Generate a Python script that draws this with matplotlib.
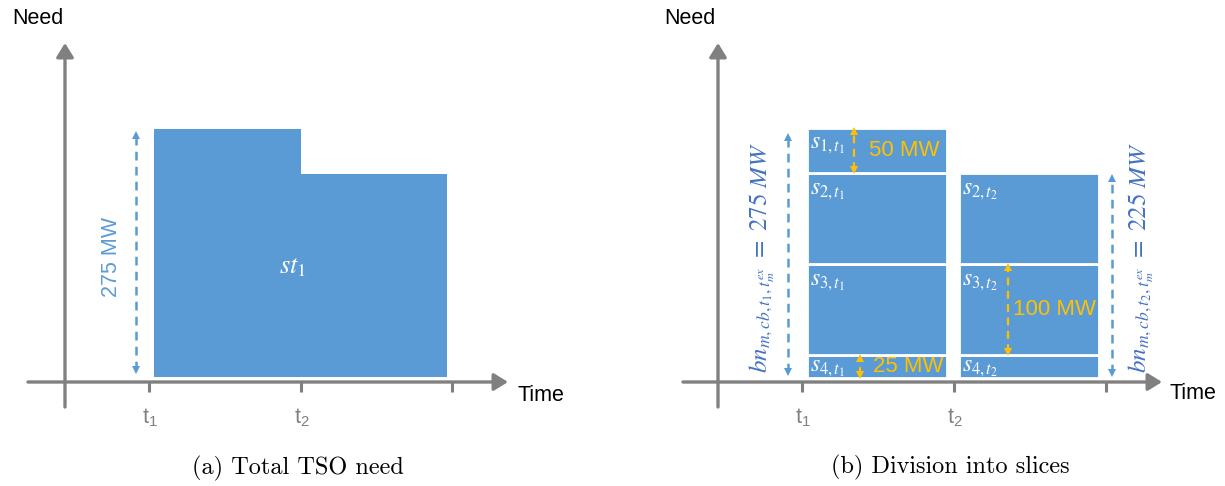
import matplotlib
matplotlib.use('Agg')
import matplotlib.pyplot as plt

# ---------------- data ----------------
time_ticks = [1, 2, 3]                 # t1, t2, end
time_labels = [r'$\mathregular{t_1}$', r'$\mathregular{t_2}$']
total_need = [275, 225]                # MW needed during [t1,t2) and [t2,end)
total_label = 'st_1'

slices_t1_names = ['s_{4,t_1}', 's_{3,t_1}', 's_{2,t_1}', 's_{1,t_1}']
slices_t1_mw = [25, 100, 100, 50]
slices_t2_names = ['s_{4,t_2}', 's_{3,t_2}', 's_{2,t_2}']
slices_t2_mw = [25, 100, 100]

# ---------------- style ----------------
W, H = 1225, 486
BLUE = '#5B9BD5'
GRAY = '#808080'
ORANGE = '#FFC000'
DBLUE = '#4472C4'
SANS = 'Liberation Sans'

fig = plt.figure(figsize=(W / 100, H / 100), dpi=100)


def make_panel(x0px, x1px, tick1_px, px_per_t, zero_py, px_per_mw):
    ax = fig.add_axes([x0px / W, 0, (x1px - x0px) / W, 1])
    ax.set_xlim(1 + (x0px - tick1_px) / px_per_t, 1 + (x1px - tick1_px) / px_per_t)
    ax.set_ylim((zero_py - H) / px_per_mw, zero_py / px_per_mw)
    ax.axis('off')

    def to_d(px, py):
        return (1 + (px - tick1_px) / px_per_t, (zero_py - py) / px_per_mw)

    def dx(px):
        return px / px_per_t

    def dy(py):
        return py / px_per_mw
    return ax, to_d, dx, dy


def axes_arrows(ax, to_d, yaxis_px, xaxis_py, xstart, xtip, ytop, ybottom):
    ap = dict(arrowstyle='-|>,head_length=0.42,head_width=0.26', color=GRAY,
              lw=2.4, shrinkA=0, shrinkB=0, mutation_scale=20)
    ax.annotate('', xy=to_d(yaxis_px, ytop), xytext=to_d(yaxis_px, ybottom), arrowprops=ap)
    ax.annotate('', xy=to_d(xtip, xaxis_py), xytext=to_d(xstart, xaxis_py), arrowprops=ap)
    y0 = to_d(0, xaxis_py)[1]
    y1 = to_d(0, xaxis_py + 10)[1]
    for t in time_ticks:
        ax.plot([t, t], [y0, y1], color=GRAY, lw=2.2, solid_capstyle='butt')


def dashed_arrow(ax, x, y0, y1, color, lw=1.8, ms=6):
    ax.plot([x, x], [y0, y1], color=color, lw=lw, dashes=(3.5, 2.5))
    ax.plot([x], [y1], marker='^', color=color, ms=ms, mew=0)
    ax.plot([x], [y0], marker='v', color=color, ms=ms, mew=0)


# ================= Panel (a) =================
axa, Ta, dxa, dya = make_panel(0, 612, 149, 151.5, 377, 0.9018)
axes_arrows(axa, Ta, 65, 382, 28, 508, 43, 407)

pad = dxa(5)
xs = [time_ticks[0] + pad, time_ticks[1], time_ticks[2] - pad]
ys = [total_need[0], total_need[1], total_need[1]]
axa.fill_between(xs, 0, ys, step='post', color=BLUE, lw=0)

axa.text(*Ta(293, 266), f'${total_label}$', color='white', fontsize=19,
         ha='center', va='center', math_fontfamily='stix')

# 275 MW arrow
xa = time_ticks[0] - dxa(13)
dashed_arrow(axa, xa, dya(7), total_need[0] - dya(6), BLUE)
axa.text(xa - dxa(24), total_need[0] / 2 - dya(4), f'{total_need[0]} MW', rotation=90,
         color=BLUE, fontsize=15.5, family=SANS, ha='center', va='center')

axa.text(*Ta(12, 18), 'Need', fontsize=15.5, family=SANS, ha='left', va='center')
axa.text(*Ta(518, 395), 'Time', fontsize=15.5, family=SANS, ha='left', va='center')
for t, lab in zip(time_ticks, time_labels):
    axa.text(t + dxa(1), Ta(0, 418)[1], lab, color=GRAY, fontsize=15.5, family=SANS,
             ha='center', va='center')
axa.text(*Ta(298, 468), '(a) Total TSO need', family='cmr10', fontsize=17.5,
         ha='center', va='center')

# ================= Panel (b) =================
axb, Tb, dxb, dyb = make_panel(612, 1225, 802, 152, 378, 0.909)
axes_arrows(axb, Tb, 718, 382, 683, 1162, 43, 407)

bar_off = dxb(5)
bar_w = dxb(140)


def stack(t, names, vals):
    bottom = 0
    rects = []
    for n, v in zip(names, vals):
        axb.bar(t + bar_off, v, bottom=bottom, width=bar_w, align='edge',
                color=BLUE, edgecolor='white', lw=2)
        rects.append((n, bottom, v))
        bottom += v
    for i, (n, b, v) in enumerate(rects):
        if i == 0:
            axb.annotate(f'${n}$', xy=(t + bar_off, b + v / 2), xytext=(2, 0),
                         textcoords='offset points', color='white', fontsize=17,
                         ha='left', va='center', math_fontfamily='stix')
        else:
            axb.annotate(f'${n}$', xy=(t + bar_off, b + v), xytext=(2, -3),
                         textcoords='offset points', color='white', fontsize=17,
                         ha='left', va='top', math_fontfamily='stix')
    return rects


r1 = stack(time_ticks[0], slices_t1_names, slices_t1_mw)
r2 = stack(time_ticks[1], slices_t2_names, slices_t2_mw)


def mw_arrow(t, rect, x_px, gap_px):
    n, b, v = rect
    x = t + bar_off + dxb(x_px)
    dashed_arrow(axb, x, b + dyb(3), b + v - dyb(3), ORANGE, lw=1.6, ms=5.5)
    axb.text(x + dxb(gap_px), b + v / 2, f'{v} MW', color=ORANGE, fontsize=16,
             family=SANS, ha='left', va='center')


mw_arrow(time_ticks[0], r1[3], 47, 15)
mw_arrow(time_ticks[0], r1[0], 53, 13)
mw_arrow(time_ticks[1], r2[1], 49, 5)

tot1 = sum(slices_t1_mw)
tot2 = sum(slices_t2_mw)
xl = time_ticks[0] - dxb(14)
dashed_arrow(axb, xl, dyb(6), tot1 - dyb(9), BLUE)
xr = time_ticks[2] + dxb(6)
dashed_arrow(axb, xr, dyb(5), tot2 - dyb(5), BLUE)

axb.text(xl - dxb(26), tot1 / 2 - dyb(4),
         r'$bn_{m,cb,t_1,t_m^{ex}}\ =\ ' + f'{tot1}' + r'\ MW$', rotation=90,
         color=DBLUE, fontsize=18, ha='center', va='center', math_fontfamily='stix')
axb.text(xr + dxb(29), tot1 / 2 - dyb(4),
         r'$bn_{m,cb,t_2,t_m^{ex}}\ =\ ' + f'{tot2}' + r'\ MW$', rotation=90,
         color=DBLUE, fontsize=18, ha='center', va='center', math_fontfamily='stix')

axb.text(*Tb(664, 18), 'Need', fontsize=15.5, family=SANS, ha='left', va='center')
axb.text(*Tb(1170, 393), 'Time', fontsize=15.5, family=SANS, ha='left', va='center')
for t, lab in zip(time_ticks, time_labels):
    axb.text(t + dxb(1), Tb(0, 418)[1], lab, color=GRAY, fontsize=15.5, family=SANS,
             ha='center', va='center')
axb.text(*Tb(950, 467), '(b) Division into slices', family='cmr10', fontsize=17.5,
         ha='center', va='center')

fig.savefig('out.png', dpi=100)
